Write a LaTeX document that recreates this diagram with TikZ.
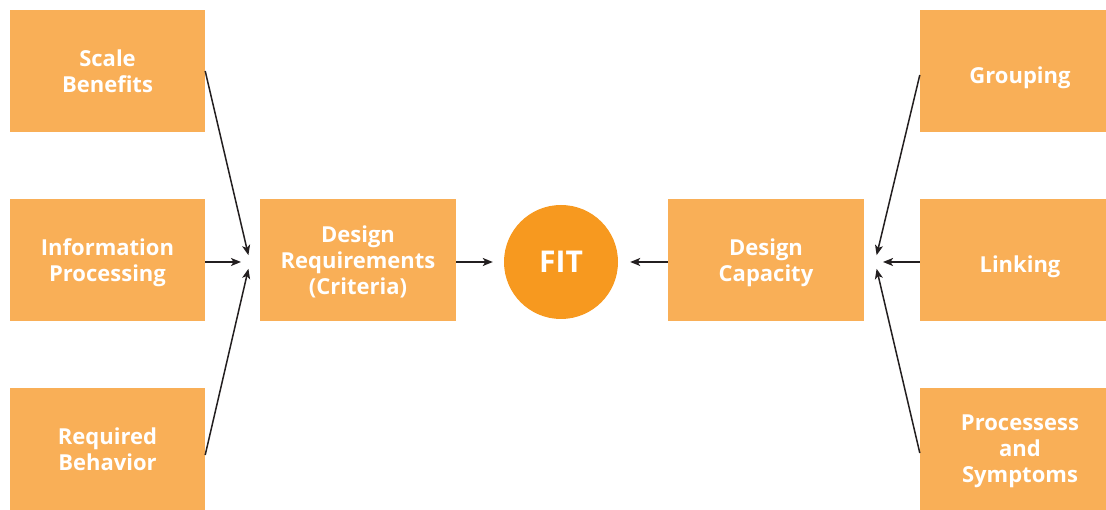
\documentclass[tikz,border=0pt]{standalone}
\usepackage{fontspec}
\setmainfont{Open Sans}
\usetikzlibrary{arrows.meta}
\definecolor{boxorange}{HTML}{F9AF57}
\definecolor{fitorange}{HTML}{F7991F}
\definecolor{arrowgray}{HTML}{231F20}

\begin{document}
\begin{tikzpicture}[x=1pt,y=1pt,
    box/.style={fill=boxorange,text=white,font=\bfseries\fontsize{22}{26}\selectfont,align=center,minimum width=195pt,minimum height=122pt,inner sep=0pt,text depth=0pt,execute at begin node={\rule{0pt}{25pt}}},
    link/.style={draw=arrowgray,line width=1.5pt,-{Stealth[length=10pt,width=8pt,inset=2.5pt]}}]
      \useasboundingbox (0,0) rectangle (1106,510);
      \clip (0,0) rectangle (1106,510);
      % inputs on both sides
      \foreach[count=\yi,evaluate={439-(\yi-1)*189} as \py] \t in {{Scale\\Benefits},{Information\\Processing},{Required\\Behavior}} {
        \node[box] (l\yi) at (107.5,\py) {\t};
      }
      \foreach[count=\yi,evaluate={439-(\yi-1)*189} as \py] \t in {{Grouping},{Linking},{Processess\\and\\Symptoms}} {
        \node[box,minimum width=200pt] (r\yi) at (1020,\py) {\t};
      }
      % middle row
      \node[box,minimum width=196pt] (req) at (358,250) {Design\\Requirements\\(Criteria)};
      \node[circle,fill=fitorange,minimum size=114pt,inner sep=0pt,text=white,font=\bfseries\fontsize{30}{36}\selectfont] (fit) at (561,248) {FIT};
      \node[box,minimum width=196pt] (cap) at (766,250) {Design\\Capacity};
      \coordinate (lc) at (250,248);
      \coordinate (rc) at (875,248);
      \draw[link,shorten >=7pt] (l1.east) -- (lc);
      \draw[link,shorten >=9pt] ([yshift=-2pt]l2.east) -- (lc);
      \draw[link,shorten >=7pt] ([yshift=-6pt]l3.east) -- (lc);
      \draw[link,shorten >=7pt] ([yshift=-4pt]r1.west) -- (rc);
      \draw[link,shorten >=8pt] ([yshift=-2pt]r2.west) -- (rc);
      \draw[link,shorten >=7pt] ([yshift=-4pt]r3.west) -- (rc);
      \draw[link,shorten >=11pt] ([yshift=-2pt]req.east) -- (fit.west);
      \draw[link,shorten >=12pt] ([yshift=-2pt]cap.west) -- (fit.east);
    \end{tikzpicture}
\end{document}
